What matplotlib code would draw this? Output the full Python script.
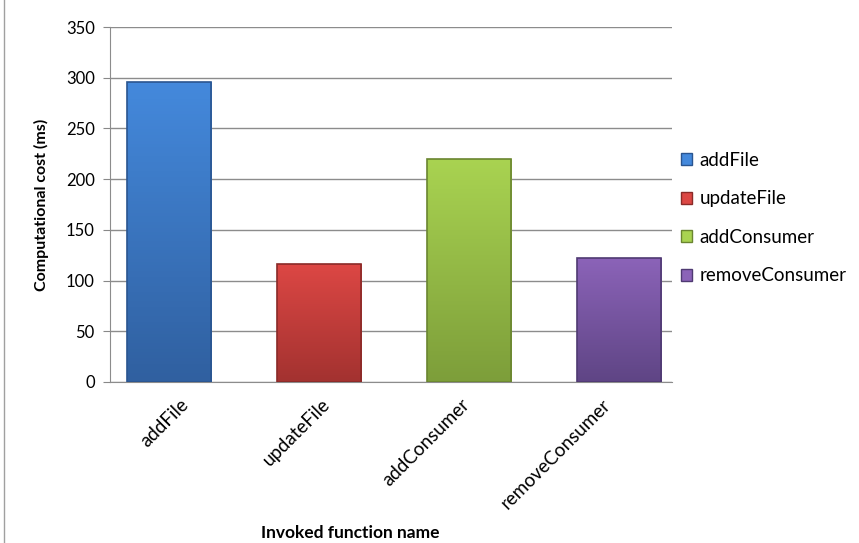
import numpy as np
import matplotlib.pyplot as plt
from matplotlib.colors import LinearSegmentedColormap
from matplotlib.patches import Patch

plt.rcParams['font.family'] = ['Lato', 'DejaVu Sans']

# chart data
functions = ['addFile', 'updateFile', 'addConsumer', 'removeConsumer']
cost_ms = [296, 116, 220, 122]
top_colors = ['#4489dc', '#dc4744', '#a9d351', '#8b63b8']
bottom_colors = ['#3060a0', '#a33230', '#7d9e3a', '#5f4585']
edge_colors = ['#2a5590', '#8a2a28', '#6a8530', '#4f3a72']

fig = plt.figure(figsize=(8.59, 5.43), dpi=100)
ax = fig.add_axes([110 / 859, 1 - 382 / 543, 562 / 859, 355 / 543])

# Excel draws the bars slightly off the category centres
pos = np.arange(len(functions)) * 1.068 - 0.08
width = 0.6

bars = ax.bar(pos, cost_ms, width=width, color='none', edgecolor='none', zorder=3)
for b, c0, c1, ec in zip(bars, top_colors, bottom_colors, edge_colors):
    cmap = LinearSegmentedColormap.from_list('g', [c1, c0])
    grad = np.linspace(0, 1, 100).reshape(-1, 1)
    x0, y0 = b.get_x(), b.get_y()
    im = ax.imshow(grad, cmap=cmap, aspect='auto', origin='lower',
                   extent=[x0, x0 + b.get_width(), y0, y0 + b.get_height()], zorder=3)
    im.set_clip_path(b)
    # darker outline
    ax.bar(b.get_x() + b.get_width() / 2, b.get_height(), width=b.get_width(),
           color='none', edgecolor=ec, linewidth=1.2, zorder=4)

ax.set_xlim(-0.5, 3.5)
ax.set_ylim(0, 350)
ax.set_yticks(range(0, 351, 50))
ax.set_xticks(range(len(functions)))
ax.set_xticklabels(functions, rotation=45, ha='right', rotation_mode='anchor', fontsize=13.5)
ax.tick_params(axis='y', labelsize=12, length=5, color='#888888', pad=6)
ax.tick_params(axis='x', length=0, pad=10)
ax.grid(axis='y', color='#8c8c8c', linewidth=1, zorder=0)
ax.set_axisbelow(True)

for s in ['top', 'right']:
    ax.spines[s].set_visible(False)
for s in ['left', 'bottom']:
    ax.spines[s].set_color('#8c8c8c')

ax.set_ylabel('Computational cost (ms)', fontsize=11.5, fontweight='bold', labelpad=12)
fig.text(350 / 859, 1 - 533 / 543, 'Invoked function name', fontsize=12.5,
         fontweight='bold', ha='center', va='center')

handles = [Patch(facecolor=tc, edgecolor=ec) for tc, ec in zip(top_colors, edge_colors)]
fig.legend(handles, functions, loc='center left', bbox_to_anchor=(664 / 859, 1 - 218 / 543),
           frameon=False, fontsize=13.5, handlelength=0.6, handleheight=0.6,
           handletextpad=0.4, labelspacing=1.15)

# outer chart border on the left
fig.add_artist(plt.Line2D([4 / 859, 4 / 859], [0, 1], color='#a0a0a0', linewidth=1))

fig.savefig('out.png', dpi=100)
